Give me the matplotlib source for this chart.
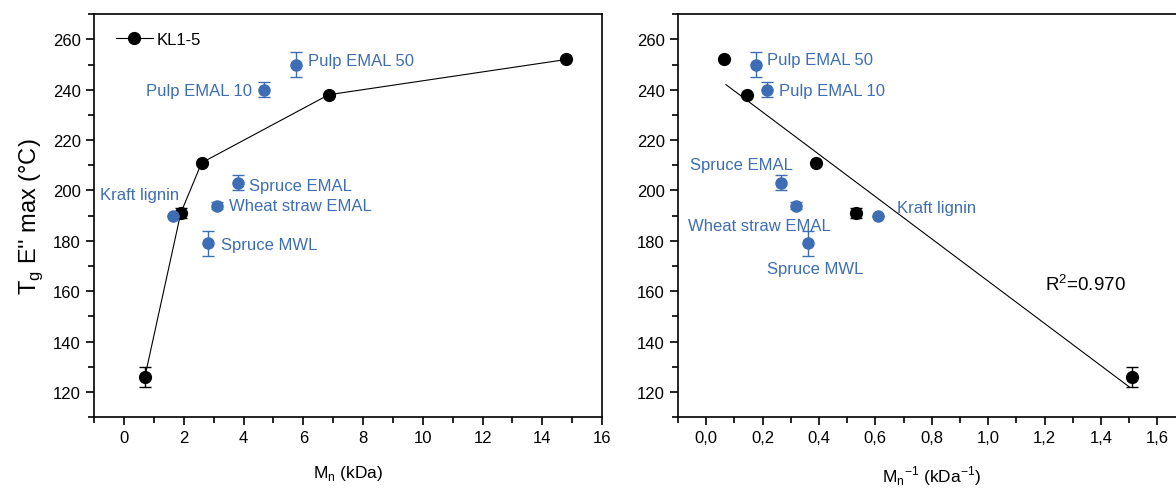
import numpy as np
import matplotlib.pyplot as plt
from matplotlib.ticker import MultipleLocator, FuncFormatter

plt.rcParams['font.family'] = ['Liberation Sans', 'DejaVu Sans']

BLUE = '#3d6db4'

# KL1-5 series (black)
kl_mn = [0.7, 1.9, 2.6, 6.85, 14.8]
kl_inv = [1.51, 0.53, 0.39, 0.145, 0.065]
kl_tg = [126, 191, 211, 238, 252]
kl_err = [4, 2, 0, 0, 0]

# other lignins (blue)
names = ['Kraft lignin', 'Spruce MWL', 'Wheat straw EMAL', 'Spruce EMAL',
         'Pulp EMAL 10', 'Pulp EMAL 50']
other_mn = [1.65, 2.8, 3.1, 3.8, 4.7, 5.75]
other_inv = [0.61, 0.36, 0.32, 0.265, 0.215, 0.175]
other_tg = [190, 179, 194, 203, 240, 250]
other_err = [0, 5, 1.5, 3, 3, 5]

# label anchors (x, y, ha) for each panel
labels_left = [(1.85, 198.5, 'right'), (3.25, 178.6, 'left'), (3.5, 194, 'left'),
               (4.2, 202, 'left'), (4.3, 239.6, 'right'), (6.15, 251.5, 'left')]
labels_right = [(0.677, 193.3, 'left'), (0.216, 169, 'left'), (-0.064, 186, 'left'),
                (-0.057, 210.4, 'left'), (0.259, 239.8, 'left'), (0.216, 252, 'left')]


def style_axis(ax, xmin, xmax, xmajor, xminor):
    ax.set_xlim(xmin, xmax)
    ax.set_ylim(110, 270)
    ax.xaxis.set_major_locator(MultipleLocator(xmajor))
    ax.xaxis.set_minor_locator(MultipleLocator(xminor))
    ax.yaxis.set_major_locator(MultipleLocator(20))
    ax.yaxis.set_minor_locator(MultipleLocator(10))
    ax.tick_params(which='both', direction='out', top=False, right=False,
                   labelsize=12, width=1.2)
    ax.tick_params(which='major', length=6)
    ax.tick_params(which='minor', length=4)
    for s in ax.spines.values():
        s.set_linewidth(1.2)


fig = plt.figure(figsize=(11.76, 4.89), dpi=100)
ax1 = fig.add_axes([0.080, 0.145, 0.432, 0.824])
ax2 = fig.add_axes([0.5765, 0.145, 0.4316, 0.824])

# left panel: Tg vs Mn
ax1.plot(kl_mn, kl_tg, '-', color='black', lw=0.8, marker='o', ms=8.5,
         label='KL1-5')
ax1.errorbar(kl_mn, kl_tg, yerr=kl_err, fmt='none', ecolor='black',
             elinewidth=1, capsize=4.5)
ax1.errorbar(other_mn, other_tg, yerr=other_err, fmt='o', color=BLUE, ms=8,
             elinewidth=1, capsize=4.5)
for n, (x, y, ha) in zip(names, labels_left):
    ax1.text(x, y, n, color=BLUE, fontsize=12, ha=ha, va='center')
style_axis(ax1, -1, 16, 2, 1)
ax1.set_xlabel('M$_\\mathregular{n}$ (kDa)', fontsize=12.5, labelpad=13)
ax1.set_ylabel('T$_\\mathregular{g}$ E\'\' max (°C)', fontsize=17, labelpad=6)
ax1.legend(loc='upper left', bbox_to_anchor=(0.043, 0.955), frameon=False,
           fontsize=12, handlelength=2.2, handletextpad=0.25, borderpad=0,
           borderaxespad=0)

# right panel: Tg vs 1/Mn with linear fit
ax2.plot(kl_inv, kl_tg, 'o', color='black', ms=8.5)
ax2.errorbar(kl_inv, kl_tg, yerr=kl_err, fmt='none', ecolor='black',
             elinewidth=1, capsize=4.5)
ax2.errorbar(other_inv, other_tg, yerr=other_err, fmt='o', color=BLUE, ms=8,
             elinewidth=1, capsize=4.5)
slope, icpt = np.polyfit(kl_inv, kl_tg, 1)
xf = np.array([0.07, 1.5])
ax2.plot(xf, slope * xf + icpt, color='black', lw=0.8)
ax2.text(1.2, 163, 'R$^\\mathregular{2}$=0.970', fontsize=13.5, va='center')
for n, (x, y, ha) in zip(names, labels_right):
    ax2.text(x, y, n, color=BLUE, fontsize=12, ha=ha, va='center')
style_axis(ax2, -0.1, 1.7, 0.2, 0.1)
ax2.xaxis.set_major_formatter(FuncFormatter(lambda v, p: f'{v:.1f}'.replace('.', ',')))
ax2.set_xlabel('M$_\\mathregular{n}$$^\\mathregular{-1}$ (kDa$^\\mathregular{-1}$)',
               fontsize=12.5, labelpad=13)

fig.savefig('out.png', dpi=100)
